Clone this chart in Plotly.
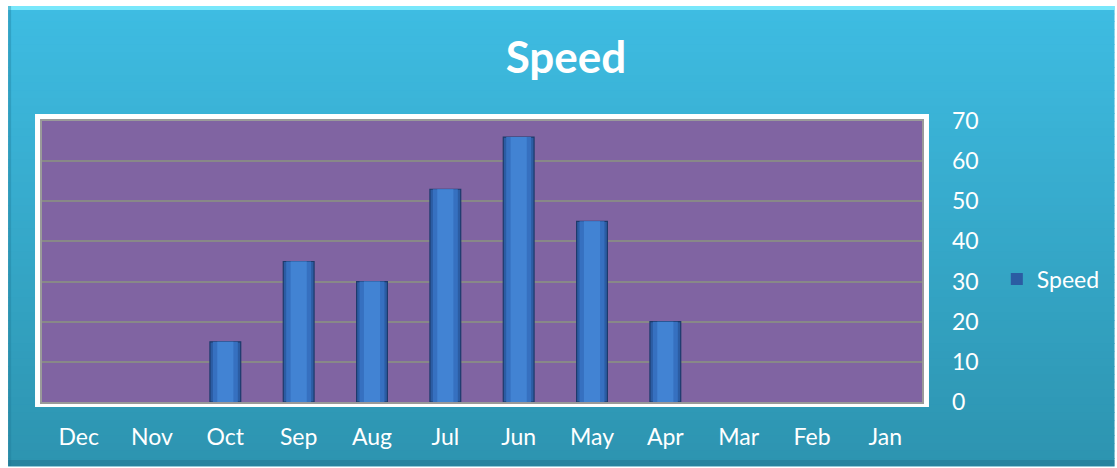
import plotly.graph_objects as go

# Monthly speed values, listed in the order shown on the category axis
months = ["Dec", "Nov", "Oct", "Sep", "Aug", "Jul", "Jun", "May", "Apr", "Mar", "Feb", "Jan"]
speed = [0, 0, 15, 35, 30, 53, 66, 45, 20, 0, 0, 0]
y_ticks = [0, 10, 20, 30, 40, 50, 60, 70]

W, H = 1117, 468
L, R, T, B = 42, 924, 121, 402  # plot area in pixels


def px(x):
    return (x - L) / (R - L)


def py(y):
    return (B - y) / (B - T)


FONT = "Lato"
shapes = []

# Outer frame: vertical cyan gradient built from thin bands
top_c = (62, 188, 226)
bot_c = (45, 148, 176)
n = 60
y0, y1 = 6, 466
for i in range(n):
    t = i / (n - 1)
    c = tuple(round(a + (b - a) * t) for a, b in zip(top_c, bot_c))
    ya = y0 + (y1 - y0) * i / n
    yb = y0 + (y1 - y0) * (i + 1) / n + 0.6
    shapes.append(dict(type="rect", xref="paper", yref="paper", layer="below",
                       x0=px(8), x1=px(1117), y0=py(ya), y1=py(yb),
                       fillcolor="rgb(%d,%d,%d)" % c, line=dict(width=0)))
# bevel highlights / shadows on the frame edges
shapes.append(dict(type="rect", xref="paper", yref="paper", layer="below",
                   x0=px(8), x1=px(1117), y0=py(6), y1=py(10),
                   fillcolor="rgba(130,238,255,0.85)", line=dict(width=0)))
shapes.append(dict(type="rect", xref="paper", yref="paper", layer="below",
                   x0=px(8), x1=px(11), y0=py(6), y1=py(466),
                   fillcolor="rgba(30,120,150,0.35)", line=dict(width=0)))
shapes.append(dict(type="rect", xref="paper", yref="paper", layer="below",
                   x0=px(8), x1=px(1117), y0=py(460), y1=py(466),
                   fillcolor="rgba(30,100,125,0.35)", line=dict(width=0)))
# white border around the plot area
shapes.append(dict(type="rect", xref="paper", yref="paper", layer="below",
                   x0=px(35), x1=px(931), y0=py(114), y1=py(407),
                   fillcolor="white", line=dict(width=0)))
shapes.append(dict(type="rect", xref="paper", yref="paper", layer="below",
                   x0=px(40), x1=px(926), y0=py(119), y1=py(404),
                   fillcolor="#9a9a9a", line=dict(width=0)))
shapes.append(dict(type="rect", xref="paper", yref="paper", layer="below",
                   x0=0, x1=1, y0=0, y1=1,
                   fillcolor="#8064a2", line=dict(width=0)))

# outline only where a bar has height
edge_w = [1.2 if v > 0 else 0 for v in speed]

fig = go.Figure()
fig.add_trace(go.Bar(
    x=months, y=speed, name="Speed", width=0.42,
    marker=dict(color="#2b5ca3", line=dict(color="#1d3a6b", width=edge_w)),
    showlegend=True,
))
fig.add_trace(go.Bar(
    x=months, y=speed, name="Speed", width=0.34,
    marker=dict(color="#3670c0", line=dict(width=0)),
    showlegend=False, hoverinfo="skip",
))
fig.add_trace(go.Bar(
    x=months, y=speed, name="Speed", width=0.22,
    marker=dict(color="#4283d3", line=dict(width=0)),
    showlegend=False, hoverinfo="skip",
))

fig.update_layout(
    width=W, height=H,
    margin=dict(l=L, r=W - R, t=T, b=H - B, pad=0),
    paper_bgcolor="white",
    plot_bgcolor="rgba(0,0,0,0)",
    barmode="overlay",
    shapes=shapes,
    title=dict(text="<b>Speed</b>", x=566 / W, xref="container", xanchor="center",
               y=1 - 58 / H, yref="container", yanchor="middle",
               font=dict(family=FONT, size=44, color="white")),
    xaxis=dict(categoryorder="array", categoryarray=months,
               tickfont=dict(family=FONT, size=23, color="white"),
               showgrid=False, zeroline=False, showline=False,
               ticks="", ticklabelstandoff=19),
    yaxis=dict(side="right", range=[0, 70], tickvals=y_ticks,
               tickfont=dict(family=FONT, size=23, color="white"),
               showgrid=True, gridcolor="#888888", gridwidth=2,
               zeroline=False, showline=False, ticks="", ticklabelstandoff=29),
    legend=dict(x=px(999), y=py(279), xanchor="left", yanchor="middle",
                bgcolor="rgba(0,0,0,0)", font=dict(family=FONT, size=23, color="white"),
                itemwidth=30),
    bargap=0.5,
)

fig.write_html("out.html")
